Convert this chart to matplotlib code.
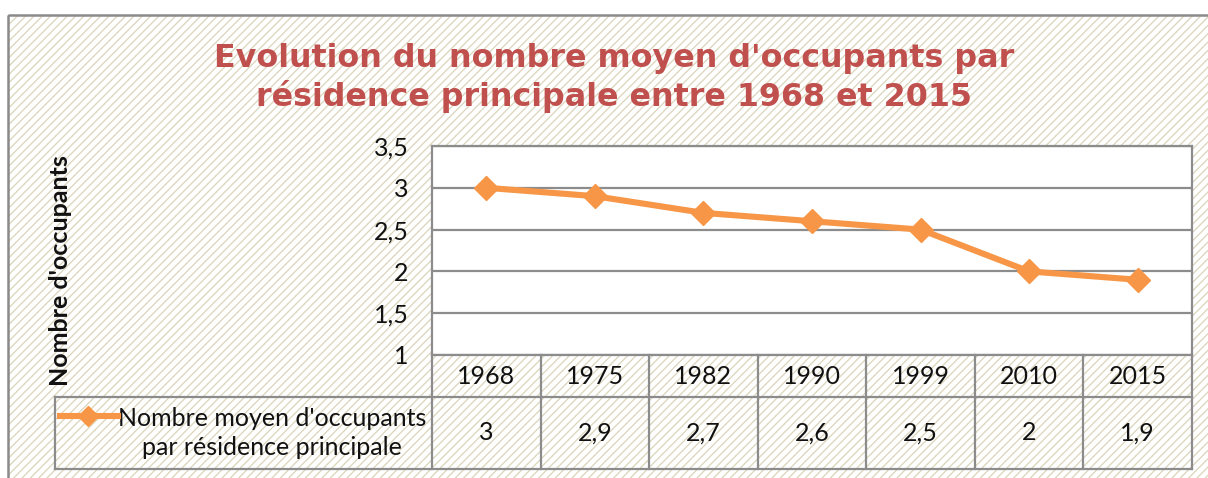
import matplotlib
matplotlib.use("Agg")
import matplotlib.pyplot as plt
from matplotlib.patches import Rectangle
from matplotlib.lines import Line2D
from matplotlib import transforms
from matplotlib.ticker import FuncFormatter, MultipleLocator

years = ["1968", "1975", "1982", "1990", "1999", "2010", "2015"]
occupants = [3.0, 2.9, 2.7, 2.6, 2.5, 2.0, 1.9]
value_labels = ["3", "2,9", "2,7", "2,6", "2,5", "2", "1,9"]
series_name = "Nombre moyen d'occupants\npar résidence principale"
title = "Evolution du nombre moyen d'occupants par\nrésidence principale entre 1968 et 2015"
y_label = "Nombre d'occupants"

W, H = 1208, 478
ORANGE = "#f79646"
GRID = "#8c8c8c"
TITLE_RED = "#c0504d"
HATCH = "#dad4ba"
TXT = "#111111"

plt.rcParams["hatch.linewidth"] = 0.9
plt.rcParams["font.family"] = ["Lato", "DejaVu Sans"]

fig = plt.figure(figsize=(W / 100, H / 100), dpi=100)
fig.patch.set_facecolor("white")

# pixel transform (top-left origin) on the figure
px = transforms.Affine2D().scale(1 / W, -1 / H).translate(0, 1) + fig.transFigure

# hatched chart background and its frame
fig.patches.append(Rectangle((8, 15), W, H, transform=px, facecolor="white",
                             edgecolor=HATCH, hatch="////", linewidth=0, zorder=0))
fig.patches.append(Rectangle((8, 15), W, H, transform=px, facecolor="none",
                             edgecolor="#8a8a8a", linewidth=1.8, zorder=1))

# plot area
left, top, right, bottom = 432, 146, 1192, 355
ax = fig.add_axes([left / W, 1 - bottom / H, (right - left) / W, (bottom - top) / H])
ax.set_facecolor("white")
ax.set_zorder(2)
x = list(range(len(years)))
ax.plot(x, occupants, color=ORANGE, lw=4.4, marker="D", ms=12, mec=ORANGE,
        mfc=ORANGE, solid_joinstyle="round", zorder=3)
ax.set_xlim(-0.5, len(years) - 0.5)
ax.set_ylim(1, 3.5)
ax.yaxis.set_major_locator(MultipleLocator(0.5))
ax.yaxis.set_major_formatter(FuncFormatter(lambda v, p: f"{v:g}".replace(".", ",")))
ax.grid(axis="y", color=GRID, lw=1.6)
ax.set_axisbelow(True)
ax.set_xticks([])
ax.tick_params(axis="y", length=0, pad=17, labelsize=18, labelcolor=TXT)
for s in ax.spines.values():
    s.set_color(GRID)
    s.set_linewidth(1.6)

# y axis title
fig.text(61 / W, 1 - 271 / H, y_label, rotation=90, ha="center", va="center",
         fontsize=18, fontweight="bold", color=TXT)

# chart title
fig.text(614 / W, 1 - 78 / H, title, ha="center", va="center", fontsize=22.9,
         fontweight="bold", color=TITLE_RED, family="DejaVu Sans", linespacing=1.25)

# data table below the plot area
tb = transforms.blended_transform_factory(ax.transData, px)
row_mid, tab_bot, key_left = 397, 469, 55
lkw = dict(color=GRID, lw=1.6, zorder=4)
for i in range(len(years) + 1):
    fig.add_artist(Line2D([i - 0.5, i - 0.5], [bottom, tab_bot], transform=tb, **lkw))
fig.add_artist(Line2D([key_left, right], [row_mid, row_mid], transform=px, **lkw))
fig.add_artist(Line2D([key_left, right], [tab_bot, tab_bot], transform=px, **lkw))
fig.add_artist(Line2D([key_left, key_left], [row_mid, tab_bot], transform=px, **lkw))

for i, (yr, lab) in enumerate(zip(years, value_labels)):
    fig.text(i, 377, yr, transform=tb, ha="center", va="center", fontsize=18, color=TXT)
    fig.text(i, 433, lab, transform=tb, ha="center", va="center", fontsize=18, color=TXT)

# legend key inside the table
fig.add_artist(Line2D([60, 118], [416, 416], transform=px, color=ORANGE, lw=4.4, zorder=5))
fig.add_artist(Line2D([88], [416], transform=px, marker="D", ms=10, color=ORANGE, zorder=5))
fig.text(272, 433, series_name, transform=px, ha="center", va="center", fontsize=18,
         color=TXT, linespacing=1.35)

fig.savefig("out.png", dpi=100)
